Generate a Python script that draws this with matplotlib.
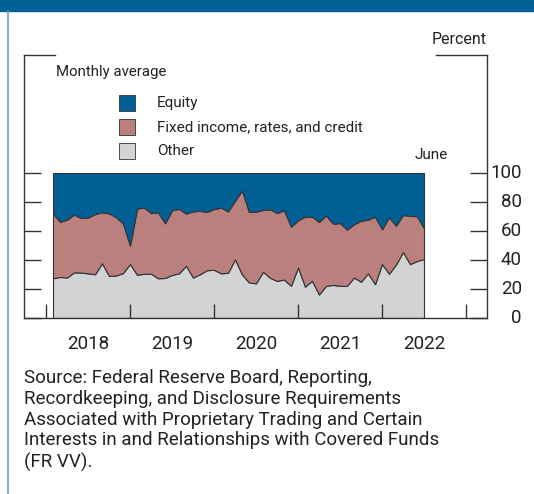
import numpy as np
import matplotlib
matplotlib.use("Agg")
import matplotlib.pyplot as plt
from matplotlib.patches import Rectangle
from matplotlib.lines import Line2D

plt.rcParams['font.family'] = ['Roboto', 'DejaVu Sans']

# Monthly shares (percent), Jan 2018 - Jun 2022
other = [27.4, 28.3, 27.9, 31.5, 31.3, 30.8, 30.2, 37.7, 29.0, 29.3, 31.0, 37.2,
         29.8, 30.5, 30.5, 27.4, 27.6, 29.7, 30.8, 36.0, 27.9, 30.2, 33.0, 33.2,
         30.8, 31.2, 40.5, 30.0, 24.5, 23.9, 31.9, 27.7, 25.6, 26.5, 22.2, 34.8,
         21.6, 25.6, 16.2, 22.2, 22.8, 22.2, 22.2, 27.9, 25.0, 30.8, 23.3, 37.2,
         30.5, 36.9, 45.5, 37.2, 39.3, 40.7]
fixed_income = [44.6, 38.1, 39.9, 39.8, 37.7, 38.5, 41.5, 35.2, 43.2, 40.2, 34.2, 12.8,
                45.6, 45.7, 41.9, 45.5, 37.7, 44.6, 44.5, 36.0, 45.7, 43.7, 40.2, 41.9,
                45.4, 42.3, 40.3, 58.0, 48.6, 49.4, 42.6, 47.3, 46.8, 47.8, 40.8, 32.6,
                48.3, 44.3, 50.0, 48.6, 42.2, 43.3, 38.8, 36.7, 42.1, 37.0, 46.6, 24.0,
                38.9, 26.8, 25.5, 33.3, 30.8, 21.2]
equity = [28.0, 33.6, 32.2, 28.7, 31.0, 30.7, 28.3, 27.1, 27.8, 30.5, 34.8, 50.0,
          24.6, 23.8, 27.6, 27.1, 34.7, 25.7, 24.7, 28.0, 26.4, 26.1, 26.8, 24.9,
          23.8, 26.5, 19.2, 12.0, 26.9, 26.7, 25.5, 25.0, 27.6, 25.7, 37.0, 32.6,
          30.1, 30.1, 33.8, 29.2, 35.0, 34.5, 39.0, 35.4, 32.9, 32.2, 30.1, 38.8,
          30.6, 36.3, 29.0, 29.5, 29.9, 38.1]
years = [2018, 2019, 2020, 2021, 2022]
y_ticks = [0, 20, 40, 60, 80, 100]
series_names = ['Equity', 'Fixed income, rates, and credit', 'Other']

c_equity = '#006096'
c_fixed = '#b9807d'
c_other = '#d2d3d5'
c_line = '#333333'
c_text = '#222222'

# month-end positions in fractional years
x = 2018 + (np.arange(len(other)) + 1) / 12

fig = plt.figure(figsize=(5.34, 4.94), dpi=100)

# header band and left rule
fig.patches.append(Rectangle((0, 1 - 11 / 494), 1, 11 / 494, transform=fig.transFigure,
                             color='#005f94', zorder=0))
fig.lines.append(Line2D([8 / 534, 8 / 534], [0, 1 - 11 / 494], transform=fig.transFigure,
                        color='#6f9dbb', lw=1.2))

ax = fig.add_axes([24 / 534, 176 / 494, 463 / 534, 263 / 494])
ax.stackplot(x, other, fixed_income, equity, colors=[c_other, c_fixed, c_equity],
             edgecolor=c_line, linewidth=0.8)

ax.set_xlim(2017.738, 2023.25)
ax.set_ylim(0, 181.4)

for side in ['left', 'right', 'bottom']:
    ax.spines[side].set_color(c_line)
    ax.spines[side].set_linewidth(1.0)
ax.spines['top'].set_visible(False)
# top corner stubs
ax.plot([0, 0.067], [1, 1], transform=ax.transAxes, color=c_line, lw=1.0, clip_on=False)
ax.plot([0.89, 1], [1, 1], transform=ax.transAxes, color=c_line, lw=1.0, clip_on=False)

ax.set_yticks(y_ticks)
ax.tick_params(axis='y', direction='in', length=12, width=1, color=c_line,
               left=True, right=True, labelleft=False, labelright=False)
# right-hand labels, right aligned outside the frame
for v in y_ticks:
    ax.text(1 + 35 / 463, v, str(v), transform=ax.get_yaxis_transform(),
            ha='right', va='center', fontsize=13.5, color=c_text)

ax.set_xticks(range(2018, 2024))
ax.set_xticks([y + 0.5 for y in years], minor=True)
ax.set_xticklabels([str(y) for y in years], minor=True)
ax.tick_params(axis='x', which='major', direction='in', length=10, width=1,
               color=c_line, labelbottom=False)
ax.tick_params(axis='x', which='minor', length=0, labelsize=13.5, pad=12,
               labelcolor=c_text)

# texts inside the chart area
fig.text(487 / 534, 1 - 40 / 494, 'Percent', ha='right', va='center', fontsize=11.5,
         color=c_text)
fig.text(56 / 534, 1 - 72 / 494, 'Monthly average', ha='left', va='center',
         fontsize=10.8, color=c_text)
fig.text(431 / 534, 1 - 155 / 494, 'June', ha='center', va='center', fontsize=11,
         color=c_text)

leg_colors = [c_equity, c_fixed, c_other]
for k, (name, col) in enumerate(zip(series_names, leg_colors)):
    yc = 103 + 24 * k
    fig.patches.append(Rectangle((119 / 534, 1 - (yc + 8) / 494), 16 / 534, 16 / 494,
                                 transform=fig.transFigure, facecolor=col,
                                 edgecolor=c_line, lw=0.6))
    fig.text(157 / 534, 1 - yc / 494, name, ha='left', va='center', fontsize=11,
             color=c_text)

source = ('Source: Federal Reserve Board, Reporting,\n'
          'Recordkeeping, and Disclosure Requirements\n'
          'Associated with Proprietary Trading and Certain\n'
          'Interests in and Relationships with Covered Funds\n'
          '(FR VV).')
fig.text(24 / 534, 1 - 369 / 494, source, ha='left', va='top', fontsize=13.5,
         linespacing=1.2, color=c_text)

fig.savefig('out.png', dpi=100)
